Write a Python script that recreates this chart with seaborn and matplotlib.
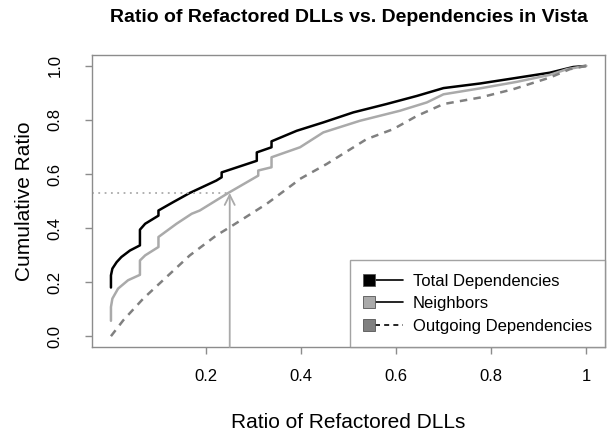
import matplotlib
matplotlib.use('Agg')
import matplotlib.pyplot as plt
from matplotlib.legend_handler import HandlerBase
from matplotlib.patches import Rectangle
from matplotlib.lines import Line2D
import pandas as pd
import seaborn as sns

# Curvas (ratio de DLLs refactorizadas vs ratio acumulado)
total_x = [0.0, 0.0, 0.003, 0.012, 0.022, 0.04, 0.061, 0.061, 0.072, 0.10, 0.10, 0.131,
           0.166, 0.222, 0.233, 0.233, 0.307, 0.307, 0.338, 0.338, 0.391, 0.447, 0.51,
           0.58, 0.644, 0.70, 0.777, 0.847, 0.924, 0.973, 1.0]
total_y = [0.18, 0.225, 0.25, 0.274, 0.293, 0.317, 0.336, 0.394, 0.416, 0.446, 0.465, 0.496,
           0.53, 0.576, 0.588, 0.606, 0.649, 0.68, 0.699, 0.721, 0.760, 0.791, 0.828,
           0.859, 0.889, 0.918, 0.935, 0.954, 0.975, 0.996, 1.0]

neighbors_x = [0.0, 0.0, 0.003, 0.015, 0.036, 0.061, 0.061, 0.072, 0.10, 0.10, 0.138, 0.17,
               0.187, 0.247, 0.31, 0.31, 0.338, 0.338, 0.398, 0.447, 0.524, 0.608, 0.665,
               0.70, 0.777, 0.854, 0.924, 0.96, 1.0]
neighbors_y = [0.057, 0.108, 0.139, 0.176, 0.207, 0.227, 0.28, 0.299, 0.33, 0.367, 0.416, 0.453,
               0.465, 0.53, 0.594, 0.613, 0.625, 0.662, 0.699, 0.754, 0.797, 0.834, 0.865,
               0.895, 0.917, 0.941, 0.967, 0.988, 1.0]

outgoing_x = [0.0, 0.026, 0.068, 0.117, 0.166, 0.222, 0.25, 0.278, 0.328, 0.384, 0.398, 0.454,
              0.538, 0.594, 0.644, 0.70, 0.777, 0.847, 0.924, 0.966, 1.0]
outgoing_y = [0.0, 0.059, 0.139, 0.219, 0.299, 0.373, 0.403, 0.434, 0.49, 0.563, 0.582, 0.637,
              0.729, 0.766, 0.815, 0.859, 0.883, 0.914, 0.957, 0.988, 1.0]

series = ['Total Dependencies', 'Neighbors', 'Outgoing Dependencies']
fills = ['#000000', '#aaaaaa', '#808080']
line_styles = ['-', '-', '--']

ref_x, ref_y = 0.25, 0.53
xticks = [0.2, 0.4, 0.6, 0.8, 1.0]
xtick_labels = ['0.2', '0.4', '0.6', '0.8', '1']
yticks = [0.0, 0.2, 0.4, 0.6, 0.8, 1.0]

frames = []
for name, xs, ys in zip(series, [total_x, neighbors_x, outgoing_x], [total_y, neighbors_y, outgoing_y]):
    frames.append(pd.DataFrame({'x': xs, 'y': ys, 'serie': name}))
df = pd.concat(frames, ignore_index=True)

sns.set_theme(style='white')
plt.rcParams['font.family'] = ['Liberation Sans', 'DejaVu Sans']
plt.rcParams['text.color'] = 'black'
plt.rcParams['axes.labelcolor'] = 'black'
plt.rcParams['axes.titlecolor'] = 'black'

fig, ax = plt.subplots(figsize=(6.13, 4.34), dpi=100)
fig.subplots_adjust(left=0.150, right=0.987, bottom=0.2005, top=0.873)

sns.lineplot(data=df, x='x', y='y', hue='serie', style='serie',
             palette={'Total Dependencies': '#000000', 'Neighbors': '#aaaaaa',
                      'Outgoing Dependencies': '#808080'},
             dashes={'Total Dependencies': '', 'Neighbors': '',
                     'Outgoing Dependencies': (3, 2.5)},
             estimator=None, sort=False, linewidth=1.8, legend=False, ax=ax)

# referencia punteada y flecha
ax.plot([-0.04, ref_x], [ref_y, ref_y], ls=(0, (1, 2.5)), color='#aaaaaa', lw=1.3)
ax.annotate('', xy=(ref_x, ref_y), xytext=(ref_x, -0.04),
            arrowprops=dict(arrowstyle='->,head_length=0.6,head_width=0.3',
                            color='#aaaaaa', lw=1.3, shrinkA=0, shrinkB=0))

ax.set_xlim(-0.04, 1.04)
ax.set_ylim(-0.04, 1.04)
ax.set_xticks(xticks)
ax.set_xticklabels(xtick_labels)
ax.set_yticks(yticks)
ax.set_yticklabels([f'{v:.1f}' for v in yticks], rotation=90, va='center')
ax.tick_params(axis='both', direction='out', length=5, width=1, colors='#8c8c8c',
               labelcolor='black', labelsize=12, bottom=True, left=True)
ax.tick_params(axis='x', pad=11)
ax.tick_params(axis='y', pad=16)
for s in ax.spines.values():
    s.set_color('#8c8c8c')
    s.set_linewidth(1)

ax.set_xlabel('Ratio of Refactored DLLs', fontsize=15, labelpad=21)
ax.set_ylabel('Cumulative Ratio', fontsize=15, labelpad=10)
ax.set_title('Ratio of Refactored DLLs vs. Dependencies in Vista',
             fontsize=14, fontweight='bold', pad=24)


class LegendKey:
    def __init__(self, fill, ls):
        self.fill = fill
        self.ls = ls


class BoxLineHandler(HandlerBase):
    def create_artists(self, legend, orig_handle, xdescent, ydescent, width, height, fontsize, trans):
        s = height
        box = Rectangle((-xdescent, -ydescent), s, s, facecolor=orig_handle.fill,
                        edgecolor='#555555', lw=0.6, transform=trans)
        line = Line2D([-xdescent + s, -xdescent + width], [-ydescent + height / 2] * 2,
                      color='black', lw=1.2, ls=orig_handle.ls, transform=trans)
        if orig_handle.ls == '--':
            line.set_dashes((3, 2.5))
        return [line, box]


keys = [LegendKey(f, ls) for f, ls in zip(fills, line_styles)]
leg = ax.legend(keys, series, handler_map={LegendKey: BoxLineHandler()},
                loc='lower right', borderaxespad=0, fontsize=12, frameon=True,
                fancybox=False, handlelength=2.4, handletextpad=0.55,
                borderpad=0.8, labelspacing=0.45)
leg.get_frame().set_edgecolor('#8c8c8c')
leg.get_frame().set_linewidth(1)

plt.savefig('out.png', dpi=100)
plt.close()
